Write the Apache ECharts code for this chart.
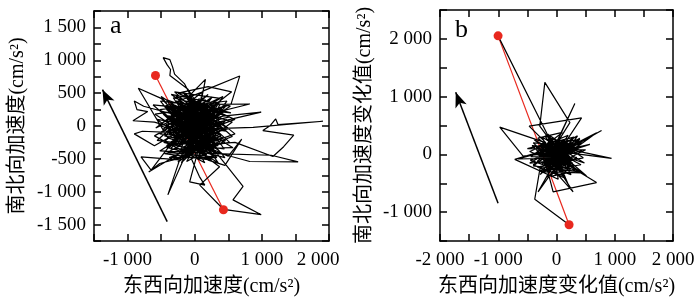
<!DOCTYPE html>
<html><head><meta charset="utf-8">
<script src="https://cdn.jsdelivr.net/npm/echarts@6/dist/echarts.min.js"></script>
<style>html,body{margin:0;padding:0;background:#fff}#c{width:700px;height:302px}</style>
</head><body><div id="c"></div>
<script>
// ---------- data ----------
const pathA = [
[-40,30],[150,-120],[-220,180],[260,90],[-90,-260],[320,-180],[-310,-40],[60,300],
[-100,560],[-370,770],[-360,860],[-410,930],[-470,1040],[-370,1010],[-330,900],[-300,790],[-150,640],[-20,380],
[240,-240],[-260,120],[110,260],[-180,-200],[380,40],[-50,-120],[200,330],[-330,260],[140,-360],[-400,-180],
[-840,575],[-500,420],[-250,160],[-760,300],[-900,380],[-860,250],[-700,220],[-920,80],[-600,60],
[-150,-80],[300,200],[-120,420],[160,710],[80,300],[-200,-330],[350,-90],[30,150],
[120,530],[670,760],[540,330],[-100,100],[820,335],[300,330],[-60,-40],[990,210],[420,150],[-280,-60],
[870,-20],[1910,72],[1240,23],[1206,108],[1127,8],[1015,-70],[1475,-140],[1325,-315],[1165,-465],[600,-250],
[-40,-300],[820,-540],[1540,-546],[1140,-445],[300,-420],[-150,200],[720,-920],[570,-1124],[990,-1350],[430,-1270],
[75,-900],[370,-620],[-120,-250],[250,50],[-350,330],[100,-50],[-230,-420],[-685,-700],[-520,-570],[-150,-470],
[-400,-1048],[-225,-515],[-800,-470],[-650,-670],[-300,-200],[180,120],[-75,-850],[150,-900],[70,-770],[-50,-500],
[210,-180],[-380,120],[40,380],[-240,-120],[390,-280],[-60,240],[170,-60],[-420,-300],[280,280],[-160,40],
[60,-230],[-300,200],[360,120],[-20,-380],[-200,350],[230,-330],[-430,20],[130,180],[-110,-170],[410,-30],
[-260,280],[20,-120],[310,310],[-350,-260],[90,110],[-80,460],[250,-150],[-470,180],[180,-440],[-140,-30],
[440,220],[-200,-250],[0,240],[330,-230],[-300,60],[120,-180],[-60,330],[260,160],[-380,-120],[50,-330],
[-180,140],[300,-60],[-100,-400],[160,400],[-420,250],[220,-280],[-30,80],[-250,-320],[370,260],[-130,60],
[80,-120],[-340,-50],[200,220],[-70,-220],[290,40],[-210,300],[130,-280],[-450,-150],[40,200],[260,-360],
[-160,-130],[350,150],[-280,380],[100,0],[-30,-300],[-370,220],[230,120],[-120,-330],[420,-180],[-240,40],
[60,350],[-80,-60],[180,-230],[-330,130],[140,260],[-190,-290],[310,80],[-10,-160],[-260,200],[200,-100],
[-90,160],[110,-400],[-400,-20],[270,230],[-50,20],[-600,-300],[-900,-120],[-780,-80],[-300,-100],[500,-460],
[700,-200],[450,-600],[200,-520],[-100,0],[550,520],[200,600],[-250,500],[600,100],[-60,-150],[30,60],
[-480,320],[410,-420],[-520,-380],[530,300],[-350,480],[460,-80],[-560,100],[250,-520],[-450,-420],[520,-250],
[-300,520],[380,420],[-600,-150],[150,-560],[-420,400],[560,60],[-250,-550],[480,380],[-520,250],[330,-480],
[-380,-480],[600,-120],[-180,520],[440,-350],[-560,-220],[200,480],[-470,-50],[350,-560],[-320,430],[540,200],
[-620,320],[280,-470],[-400,-400],[480,100],[-200,-560],[420,450],[-580,-30],[120,520],[-450,300],[570,-330],
[-360,-350],[260,440],[-520,-120],[460,-220],[-120,-540],[380,330],[-590,180],[300,-410],[-280,460],[500,-40],
[-430,-320],[190,-500],[-510,380],[410,260],[-330,-520],[560,-160],[-150,480],[330,-350],[-540,20],[240,410],
[-460,-250],[450,-480],[-270,380],[520,140],[-390,-90],[170,-470],[-500,450],[390,-150],[-220,-470],[470,310],
[-200,100],[150,-250],[-100,300],[280,-20],[-320,-180],[60,180],[-150,-350],[350,-300],[-380,330],[100,-150],
[-250,-50],[220,260],[-50,-450],[400,50],[-420,-80],[0,-80],[180,340],[-280,-300],[320,160],[-130,250],
[90,-340],[-360,40],[240,-200],[-60,400],[-200,-380],[380,-120],[-440,160],[150,100],[-100,-280],[260,-420],
[-300,320],[440,-40],[-180,-120],[70,420],[-390,-340],[300,380],[-20,-260],[-260,250],[200,-60],[-140,150]
];
const redA = [[-584,768],[428,-1275]];
const arrowA = [[-410,-1456],[-1373,553]];

const pathB = [
[-1003,2052],[-150,330],[100,-80],[-200,120],[180,150],[-60,-200],[250,-60],[-230,-100],[50,220],[-120,60],
[200,-180],[-287,488],[-200,1247],[230,550],[-50,100],[315,880],[-20,150],[-80,-150],[430,632],[-470,490],
[-180,200],[-974,471],[-573,-30],[-100,20],[-229,201],[150,-60],[-660,-80],[60,120],[945,-69],[120,40],
[773,414],[-40,-40],[687,-488],[-58,-650],[-200,-100],[285,-650],[0,-200],[-316,-650],[80,60],[573,172],
[-150,-60],[688,374],[40,-100],[401,259],[-250,150],[516,-374],[-120,180],[200,-518],[-50,80],[29,-431],
[-716,-86],[100,160],[-300,-30],[-80,40],[150,-100],[-180,160],[220,80],[-100,-180],[280,-150],[-250,20],
[60,260],[-30,-90],[120,180],[-220,-200],[300,50],[-140,220],[40,-260],[200,200],[-300,-60],[100,-30],
[-60,120],[250,-220],[-200,60],[20,0],[-340,100],[160,-200],[-90,-30],[230,130],[-160,-140],[70,90],
[-20,-170],[300,-90],[-260,180],[130,-40],[-110,120],[190,-250],[-330,-120],[80,200],[-40,-60],[260,20],
[-200,-40],[110,110],[-70,-230],[340,120],[-280,60],[50,-150],[-130,200],[210,-120],[-30,40],[-240,-160],
[150,60],[-90,-100],[280,200],[-180,0],[90,-200],[-10,170],[230,-40],[-300,150],[120,-160],[-60,60],
[-400,-200],[380,-300],[-150,-250],[500,80],[-500,100],[300,300],[-80,-330],[180,-20],[-240,100],[60,-60],
[-380,250],[420,-180],[-300,-300],[450,200],[-450,-100],[250,-350],[-200,320],[380,100],[-420,150],[150,-380],
[-330,-220],[460,-60],[-150,350],[320,-280],[-460,50],[200,330],[-280,-350],[400,280],[-400,-180],[120,-400],
[-250,300],[480,-150],[-350,120],[260,250],[-180,-400],[350,-50],[-440,-40],[100,380],[-320,280],[420,-320],
[-220,-300],[300,150],[-400,200],[180,-320],[-100,-380],[360,320],[-460,-150],[240,-80],[-150,260],[440,60],
[-120,-80],[160,120],[-200,-180],[100,-250],[-60,200],[260,-100],[-260,-60],[40,140],[-140,-220],[220,40],
[-40,-120],[180,220],[-240,120],[80,-180],[-80,240],[300,-200],[-300,20],[140,-20],[-20,-240],[200,160],
[-180,60],[60,-300],[-100,120],[280,80],[-220,-120],[120,260],[-60,-180],[240,-260],[-160,200],[20,80],
[-286,-259],[-373,-776],[216,-1219]
];
const redB = [[-1003,2052],[216,-1219]];
const arrowB = [[-1003,-845],[-1730,1074]];

const aXTickValues = [-1000,0,1000,2000];
const aXTickLabels = ['-1 000','0','1 000','{s|2 000}'];
const aYTickValues = [-1500,-1000,-500,0,500,1000,1500];
const aYTickLabels = ['-1 500','-1 000','-500','0','500','1 000','1 500'];
const bXTickValues = [-2000,-1000,0,1000,2000];
const bXTickLabels = ['-2 000','-1 000','0','1 000','2 000'];
const bYTickValues = [-1000,0,1000,2000];
const bYTickLabels = ['-1 000','0','1 000','2 000'];

const aXName = '东西向加速度(cm/s²)';
const aYName = '南北向加速度(cm/s²)';
const bXName = '东西向加速度变化值(cm/s²)';
const bYName = '南北向加速度变化值(cm/s²)';

// ---------- chart ----------
const FONT = '"Liberation Serif", "Noto Sans CJK SC", serif';
const lab = (vals, labs) => v => { const i = vals.indexOf(v); return i < 0 ? '' : labs[i]; };
const lineS = {color:'#000', width:1.5};

function axis(kind, opts) {
  const main = opts.main;
  return {
    type:'value', gridIndex:opts.grid, min:opts.min, max:opts.max, interval:opts.interval,
    position:opts.position,
    axisLine:{show:true, onZero:false, lineStyle:lineS},
    axisTick:{show:true, inside:true, length:7, lineStyle:lineS},
    splitLine:{show:false},
    axisLabel:{show:main, formatter: main ? lab(opts.vals, opts.labs) : '', color:'#000',
      fontFamily:FONT, fontSize:19, margin:opts.margin || 8, showMinLabel:true, showMaxLabel:true, hideOverlap:false,
      rich:{s:{fontFamily:FONT, fontSize:19, color:'#000', padding:[0,22,0,0]}}},
    name: main ? opts.name : '', nameLocation:'middle', nameGap: opts.nameGap || 30,
    nameTextStyle:{fontFamily:FONT, fontSize:20, color:'#000'}
  };
}

const xAxis = [
  axis('x',{grid:0,min:-1500,max:2000,interval:500,position:'bottom',main:true,vals:aXTickValues,labs:aXTickLabels,name:aXName,nameGap:36,margin:10}),
  axis('x',{grid:0,min:-1500,max:2000,interval:500,position:'top',main:false}),
  axis('x',{grid:1,min:-2000,max:2000,interval:500,position:'bottom',main:true,vals:bXTickValues,labs:bXTickLabels,name:bXName,nameGap:36,margin:10}),
  axis('x',{grid:1,min:-2000,max:2000,interval:500,position:'top',main:false})
];
const yAxis = [
  axis('y',{grid:0,min:-1750,max:1750,interval:250,position:'left',main:true,vals:aYTickValues,labs:aYTickLabels,name:aYName,nameGap:66}),
  axis('y',{grid:0,min:-1750,max:1750,interval:250,position:'right',main:false}),
  axis('y',{grid:1,min:-1500,max:2500,interval:500,position:'left',main:true,vals:bYTickValues,labs:bYTickLabels,name:bYName,nameGap:65}),
  axis('y',{grid:1,min:-1500,max:2500,interval:500,position:'right',main:false})
];

function panelSeries(xi, yi, path, red, arrow) {
  return [
    {type:'line', xAxisIndex:xi, yAxisIndex:yi, data:red, symbol:'none', showSymbol:false, z:1,
     lineStyle:{color:'#e8281e', width:1.2}, silent:true},
    {type:'line', xAxisIndex:xi, yAxisIndex:yi, data:path, showSymbol:false, symbol:'none', z:2,
     lineStyle:{color:'#000', width:1.2}, silent:true},
    {type:'scatter', xAxisIndex:xi, yAxisIndex:yi, data:red, symbol:'circle', symbolSize:9, z:3,
     itemStyle:{color:'#e8281e', opacity:1}, silent:true},
    {type:'line', xAxisIndex:xi, yAxisIndex:yi, data:[], z:4, silent:true,
     markLine:{silent:true, symbol:['none','arrow'], symbolSize:[9,15], animation:false,
       lineStyle:{color:'#000', width:1.5, type:'solid'}, label:{show:false},
       data:[[{coord:arrow[0]},{coord:arrow[1]}]]}}
  ];
}

const chart = echarts.init(document.getElementById('c'), null, {renderer:'canvas'});
chart.setOption({
  animation:false,
  backgroundColor:'#fff',
  grid:[{left:94, top:11, width:235, height:231}, {left:440, top:10, width:233, height:232}],
  xAxis, yAxis,
  graphic:[
    {type:'text', x:110, y:26, style:{text:'a', font:'26px "Liberation Serif", serif', fill:'#000', verticalAlign:'middle', align:'left'}},
    {type:'text', x:455, y:30, style:{text:'b', font:'26px "Liberation Serif", serif', fill:'#000', verticalAlign:'middle', align:'left'}}
  ],
  series:[...panelSeries(0,0,pathA,redA,arrowA), ...panelSeries(2,2,pathB,redB,arrowB)]
});
</script></body></html>
